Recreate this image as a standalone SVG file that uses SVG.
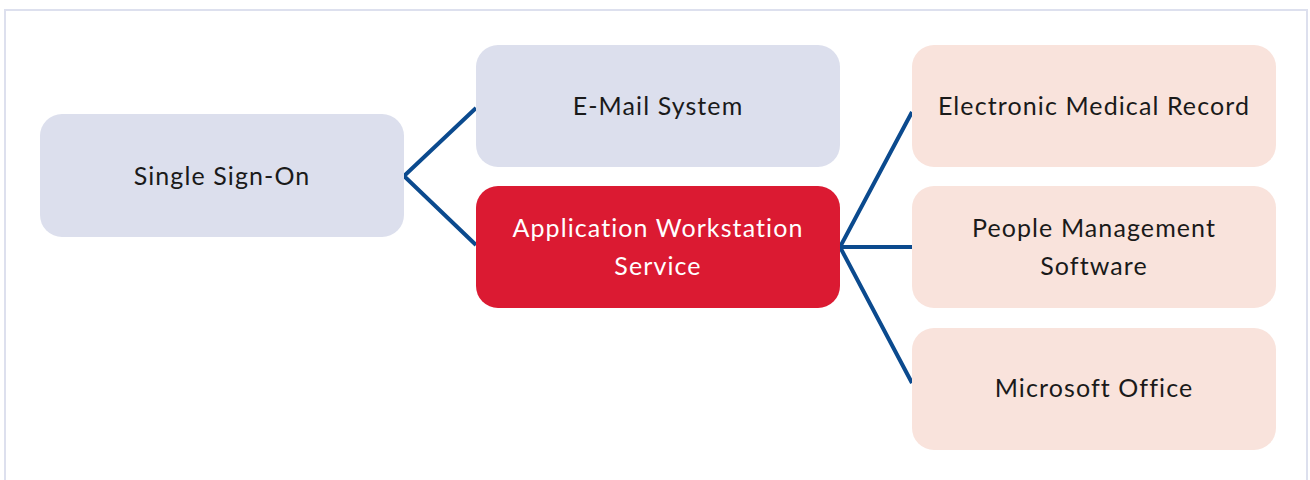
<svg xmlns="http://www.w3.org/2000/svg" width="1310" height="480" viewBox="0 0 1310 480">
<style>
.bg{fill:#ffffff}
.frame{fill:none;stroke:#dde0ee;stroke-width:2}
.blue{fill:#dcdfed}
.red{fill:#db1a32}
.peach{fill:#f9e3dc}
.conn{fill:none;stroke:#0b4a8e;stroke-width:4;stroke-linejoin:miter}
text{font-family:Lato,"Open Sans","Liberation Sans",sans-serif;font-size:25px;letter-spacing:1.1px;text-anchor:middle;fill:#1a1a1a}
text.w{fill:#ffffff}
</style>
<rect class="bg" x="0" y="0" width="1310" height="480"/>
<rect class="frame" x="5" y="10" width="1302" height="490"/>
<g id="connectors">
<polyline class="conn" points="476,108 404,176 476,245"/>
<polyline class="conn" points="912,112 840,247 912,383"/>
<line class="conn" x1="840" y1="247" x2="912" y2="247"/>
</g>
<g id="sso">
<rect class="blue" x="40" y="114" width="364" height="123" rx="22"/>
<text x="222" y="185">Single Sign-On</text>
</g>
<g id="email">
<rect class="blue" x="476" y="45" width="364" height="122" rx="22"/>
<text x="658" y="115">E-Mail System</text>
</g>
<g id="aws">
<rect class="red" x="476" y="186" width="364" height="122" rx="22"/>
<text class="w" x="658" y="237">Application Workstation</text>
<text class="w" x="658" y="275">Service</text>
</g>
<g id="emr">
<rect class="peach" x="912" y="45" width="364" height="122" rx="22"/>
<text x="1094" y="115">Electronic Medical Record</text>
</g>
<g id="pms">
<rect class="peach" x="912" y="186" width="364" height="122" rx="22"/>
<text x="1094" y="237">People Management</text>
<text x="1094" y="275">Software</text>
</g>
<g id="office">
<rect class="peach" x="912" y="328" width="364" height="122" rx="22"/>
<text x="1094" y="397">Microsoft Office</text>
</g>
</svg>
